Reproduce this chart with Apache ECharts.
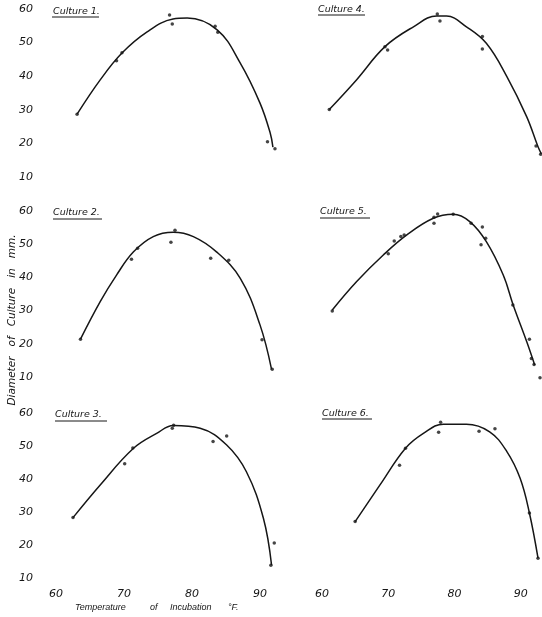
<!DOCTYPE html>
<html>
<head>
<meta charset="utf-8">
<script src="https://cdn.jsdelivr.net/npm/echarts@6/dist/echarts.min.js"></script>
<style>html,body{margin:0;padding:0;background:#fff}#c{width:542px;height:617px}</style>
</head>
<body>
<div id="c"></div>
<script>
// ---- data (temperature °F, diameter mm) ----
const xTicks = [60, 70, 80, 90];
const yTicks = [10, 20, 30, 40, 50, 60];
const cultureNames = ['Culture 1.', 'Culture 2.', 'Culture 3.', 'Culture 4.', 'Culture 5.', 'Culture 6.'];
const xTitleWords = ['Temperature', 'of', 'Incubation', '°F.'];
const yTitle = 'Diameter   of   Culture   in   mm.';

const c1Points = [[63.1,28.7],[68.9,44.6],[69.7,47.0],[76.7,58.2],[77.1,55.5],[83.4,54.9],[83.8,53.1],[91.1,20.5],[92.2,18.4]];
const c1Curve  = [[63.1,28.7],[66.5,38.9],[69.7,46.9],[73.4,53.2],[77.2,57.0],[79.3,57.3],[83.7,53.8],[87.1,43.9],[90.0,32.0],[91.5,23.1],[91.9,18.9]];

const c2Points = [[63.6,21.4],[71.1,45.5],[72.0,48.8],[76.9,50.6],[77.5,54.2],[82.75,45.75],[85.4,45.2],[90.3,21.2],[91.8,12.3]];
const c2Curve  = [[63.6,21.4],[66.5,32.7],[68.9,40.7],[71.4,47.7],[74.3,52.3],[77.25,53.6],[80.2,52.3],[83.6,47.7],[87.1,39.7],[90.0,25.7],[91.7,12.3]];

const c3Points = [[62.5,28.3],[70.1,44.6],[71.3,49.4],[77.1,55.4],[77.3,56.3],[83.1,51.4],[85.1,53.0],[91.6,13.9],[92.1,20.6]];
const c3Curve  = [[62.5,28.3],[66.5,38.2],[71.4,49.3],[74.8,53.8],[77.25,56.2],[81.2,55.4],[85.1,50.3],[88.0,42.2],[90.5,28.1],[91.7,13.9]];

const c4Points = [[61.1,30.1],[69.5,48.8],[69.9,47.8],[77.4,58.5],[77.8,56.4],[84.2,51.8],[84.2,48.1],[92.3,19.2],[93.0,16.8]];
const c4Curve  = [[61.1,30.1],[65.2,38.9],[69.5,48.8],[73.8,54.7],[77.3,57.9],[78.8,57.9],[81.8,54.7],[84.8,49.8],[87.9,39.9],[90.9,27.9],[92.6,19.0],[93.1,16.9]];

const c5Points = [[61.55,29.9],[70.0,47.1],[70.9,51.0],[71.9,52.3],[72.4,52.8],[76.9,58.1],[77.45,59.1],[76.9,56.3],[79.8,59.0],[82.5,56.3],[84.2,55.2],[84.7,51.8],[84.0,49.8],[88.8,31.7],[91.3,21.4],[91.6,15.6],[92.0,13.8],[92.9,9.8]];
const c5Curve  = [[61.55,30.2],[65.2,38.7],[69.25,46.75],[72.8,52.8],[76.8,57.8],[79.8,59.0],[82.3,56.8],[84.8,50.75],[87.35,40.7],[88.85,31.7],[90.9,20.6],[92.1,13.6]];

const c6Points = [[65.0,27.1],[71.7,44.2],[72.6,49.3],[77.6,54.15],[77.9,57.2],[83.7,54.5],[86.1,55.2],[91.3,29.7],[92.6,16.0]];
const c6Curve  = [[65.0,27.1],[68.75,38.2],[72.6,49.3],[75.3,53.8],[78.3,56.6],[81.8,56.6],[85.3,54.3],[87.9,48.3],[89.9,40.2],[91.3,29.7],[92.6,16.0]];

const allPoints = [c1Points, c2Points, c3Points, c4Points, c5Points, c6Points];
const allCurves = [c1Curve, c2Curve, c3Curve, c4Curve, c5Curve, c6Curve];

// ---- layout ----
const INK = '#161616';
const FONT = 'DejaVu Sans';
// axis extents beyond the last labelled tick so curve ends are not clipped
const xMax = [95, 95, 95, 93.2, 93.2, 93.2];
const grids = [
  {left: 56, top: 9,   width: 238, height: 168},
  {left: 56, top: 211, width: 238, height: 166},
  {left: 56, top: 413, width: 238, height: 165},
  {left: 322, top: 9,   width: 220, height: 168},
  {left: 322, top: 211, width: 220, height: 166},
  {left: 322, top: 413, width: 220, height: 165}
];
const titlePos = [[53,7],[53,208],[55,410],[318,5],[320,207],[322,409]];
const underline = [[52,17,99],[53,219,102],[55,421,107],[318,15,365],[320,218,370],[322,419,372]];
const xTitleX = [75, 150, 170, 228];

const xAxes = [], yAxes = [], series = [], titles = [], graphics = [];
for (let i = 0; i < 6; i++) {
  const bottomRow = (i === 2 || i === 5);
  const leftCol = i < 3;
  xAxes.push({
    gridIndex: i, type: 'value', min: xTicks[0], max: xMax[i], interval: 10,
    axisLine: {show: false}, axisTick: {show: false}, splitLine: {show: false},
    axisLabel: {show: bottomRow, margin: 11, color: INK, fontSize: 11, fontStyle: 'italic', fontFamily: FONT,
      showMaxLabel: false, formatter: v => xTicks.includes(v) ? String(v) : ''}
  });
  yAxes.push({
    gridIndex: i, type: 'value', min: yTicks[0], max: yTicks[yTicks.length - 1], interval: 10,
    axisLine: {show: false}, axisTick: {show: false}, splitLine: {show: false},
    axisLabel: {show: leftCol, margin: 23, color: INK, fontSize: 11, fontStyle: 'italic', fontFamily: FONT,
      formatter: v => yTicks.includes(v) ? String(v) : ''}
  });
  series.push({
    type: 'line', xAxisIndex: i, yAxisIndex: i, data: allCurves[i], smooth: 0.4,
    symbol: 'none', clip: false, lineStyle: {color: INK, width: 1.5}, silent: true
  });
  series.push({
    type: 'scatter', xAxisIndex: i, yAxisIndex: i, data: allPoints[i], symbolSize: 3.5,
    clip: false, itemStyle: {color: INK}, silent: true
  });
  titles.push({
    text: cultureNames[i], left: titlePos[i][0], top: titlePos[i][1], padding: 0,
    textStyle: {fontSize: 9.5, fontStyle: 'italic', fontWeight: 'normal', color: INK, fontFamily: FONT}
  });
  const u = underline[i];
  graphics.push({type: 'line', shape: {x1: u[0], y1: u[1], x2: u[2], y2: u[1]}, style: {stroke: INK, lineWidth: 1}, silent: true});
}
xTitleWords.forEach((w, k) => {
  graphics.push({type: 'text', x: xTitleX[k], y: 603, style: {text: w, font: 'italic 9px "Liberation Sans"', fill: INK}, silent: true});
});
graphics.push({type: 'text', x: 12, y: 320, rotation: Math.PI / 2,
  style: {text: yTitle, font: 'italic 10.5px "DejaVu Sans"', fill: INK, align: 'center', verticalAlign: 'middle'}, silent: true});

const chart = echarts.init(document.getElementById('c'), null, {renderer: 'canvas'});
chart.setOption({
  backgroundColor: '#fff',
  animation: false,
  title: titles,
  grid: grids,
  xAxis: xAxes,
  yAxis: yAxes,
  series: series,
  graphic: graphics
});
</script>
</body>
</html>
